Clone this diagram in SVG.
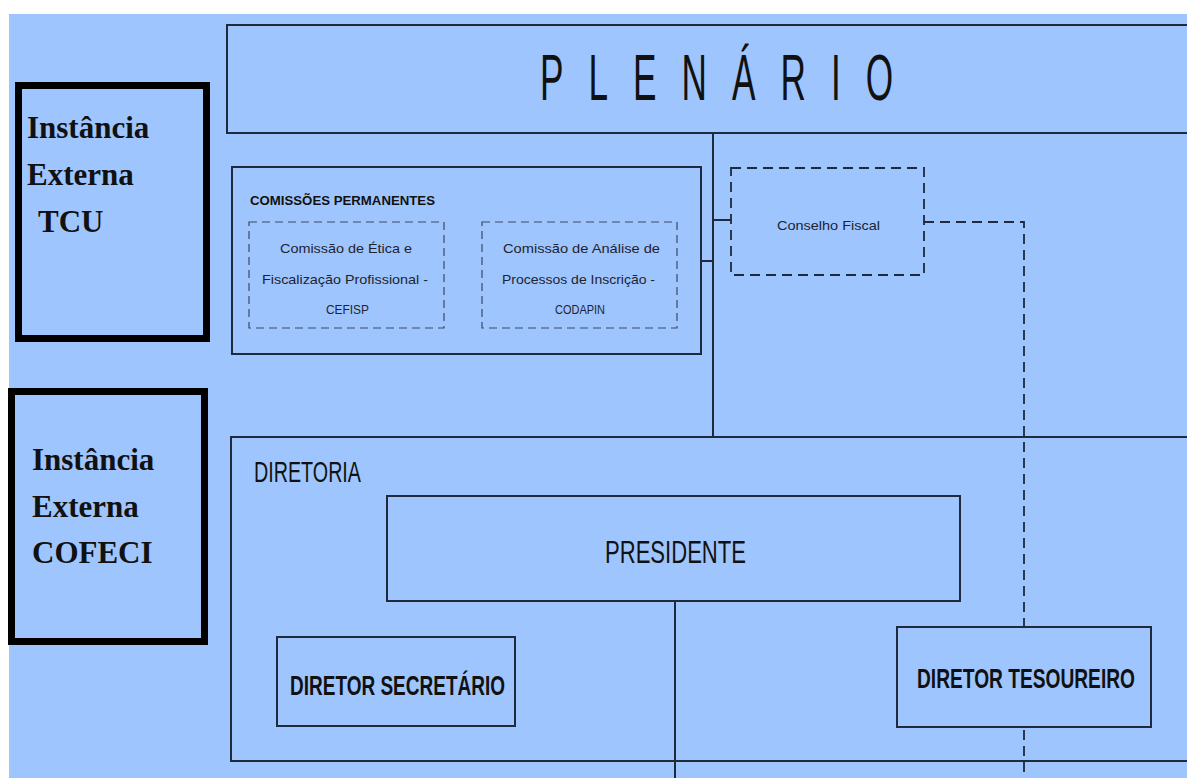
<svg xmlns="http://www.w3.org/2000/svg" width="1187" height="778" viewBox="0 0 1187 778">
<style>
.box{fill:none;stroke:#1f2a3d;stroke-width:2}
.ext{fill:none;stroke:#000;stroke-width:7}
.dash{fill:none;stroke:#1f2a3d;stroke-width:1.8;stroke-dasharray:10 6}
.dsub{fill:none;stroke:#3a4a66;stroke-width:1.2;stroke-dasharray:8 5}
.line{fill:none;stroke:#1f2a3d;stroke-width:2}
.ser{font-family:"Liberation Serif","Times New Roman",serif;font-weight:bold;font-size:31px;fill:#111}
.san{font-family:"Liberation Sans",Arial,sans-serif;fill:#111}
.sm{font-size:13px;fill:#1e2330}
</style>
<rect x="9" y="14" width="1178" height="764" fill="#9fc5fe"/>

<g id="tcu">
<rect class="ext" x="18.5" y="85.5" width="188" height="253"/>
<text class="ser" x="27" y="138">Instância</text>
<text class="ser" x="27" y="185">Externa</text>
<text class="ser" x="38" y="232">TCU</text>
</g>

<g id="cofeci">
<rect class="ext" x="11.5" y="391.5" width="193" height="250"/>
<text class="ser" x="32" y="470">Instância</text>
<text class="ser" x="32" y="517">Externa</text>
<text class="ser" x="32" y="563">COFECI</text>
</g>

<g id="plenario">
<rect class="box" x="227" y="25" width="980" height="108" stroke-width="2.5"/>
<text class="san" font-size="64" transform="translate(540,100) scale(0.55,1)" x="0" y="0" textLength="642" lengthAdjust="spacing">PLENÁRIO</text>
</g>

<g id="comissoes">
<rect class="box" x="232" y="167" width="469" height="187"/>
<text class="san" font-size="13" font-weight="bold" x="250" y="205" textLength="185" lengthAdjust="spacingAndGlyphs">COMISSÕES PERMANENTES</text>
</g>

<g id="cefisp">
<rect class="dsub" x="249" y="222" width="195" height="106"/>
<text class="san sm" x="280" y="253" textLength="132" lengthAdjust="spacingAndGlyphs">Comissão de Ética e</text>
<text class="san sm" x="262" y="284" textLength="166" lengthAdjust="spacingAndGlyphs">Fiscalização Profissional -</text>
<text class="san sm" x="326" y="314" textLength="43" lengthAdjust="spacingAndGlyphs">CEFISP</text>
</g>

<g id="codapin">
<rect class="dsub" x="482" y="222" width="195" height="106"/>
<text class="san sm" x="503" y="253" textLength="157" lengthAdjust="spacingAndGlyphs">Comissão de Análise de</text>
<text class="san sm" x="502" y="284" textLength="153" lengthAdjust="spacingAndGlyphs">Processos de Inscrição -</text>
<text class="san sm" x="555" y="314" textLength="50" lengthAdjust="spacingAndGlyphs">CODAPIN</text>
</g>

<g id="conselho">
<rect class="dash" x="731" y="168" width="193" height="107"/>
<text class="san sm" x="777" y="230" textLength="103" lengthAdjust="spacingAndGlyphs">Conselho Fiscal</text>
</g>

<g id="diretoria">
<rect class="box" x="231" y="437" width="976" height="324"/>
<text class="san" font-size="30" x="254" y="482" textLength="107" lengthAdjust="spacingAndGlyphs">DIRETORIA</text>
</g>

<g id="presidente">
<rect class="box" x="387" y="496" width="573" height="105"/>
<text class="san" font-size="31" x="605" y="563" textLength="141" lengthAdjust="spacingAndGlyphs">PRESIDENTE</text>
</g>

<g id="secretario">
<rect class="box" x="277" y="637" width="238" height="89"/>
<text class="san" font-size="27" font-weight="bold" x="290" y="695" textLength="215" lengthAdjust="spacingAndGlyphs">DIRETOR SECRETÁRIO</text>
</g>

<g id="connectors">
<line class="line" x1="713" y1="133" x2="713" y2="437"/>
<line class="line" x1="701" y1="261" x2="713" y2="261"/>
<line class="line" x1="713" y1="220" x2="731" y2="220"/>
<polyline class="dash" points="924,222 1024,222 1024,778"/>
<line class="line" x1="675" y1="601" x2="675" y2="778" stroke-width="3"/>
</g>

<g id="tesoureiro">
<rect class="box" x="897" y="627" width="254" height="100" style="fill:#9fc5fe"/>
<text class="san" font-size="27" font-weight="bold" transform="translate(917,688) scale(0.71,1)" x="0" y="0" textLength="307" lengthAdjust="spacingAndGlyphs">DIRETOR TESOUREIRO</text>
</g>
</svg>
